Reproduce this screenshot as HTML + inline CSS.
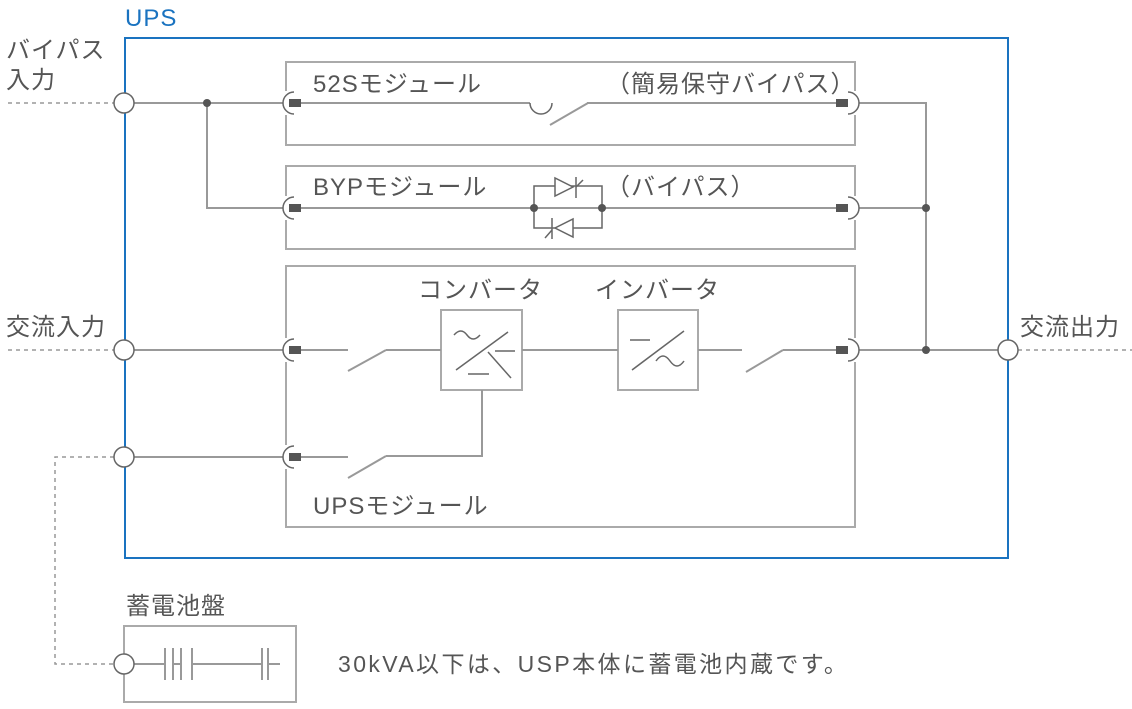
<!DOCTYPE html>
<html><head><meta charset="utf-8"><style>
body{margin:0;background:#fff}
svg text{font-family:"Liberation Sans","Noto Sans CJK JP",sans-serif;fill:#555;font-size:24px;letter-spacing:1px}
</style></head><body>
<svg width="1132" height="704" viewBox="0 0 1132 704" xmlns="http://www.w3.org/2000/svg">
<g fill="none" stroke="#aaa" stroke-width="2">
<rect x="286" y="62" width="569" height="83"/>
<rect x="286" y="166" width="569" height="83"/>
<rect x="286" y="266" width="569" height="261"/>
<rect x="441" y="310" width="81" height="80"/>
<rect x="618" y="310" width="80" height="80"/>
<rect x="124" y="626" width="172" height="76"/>
</g>
<g fill="none" stroke="#999" stroke-width="1.5" stroke-dasharray="4,4">
<line x1="8" y1="103" x2="114" y2="103"/>
<line x1="8" y1="350" x2="114" y2="350"/>
<line x1="1018" y1="350" x2="1132" y2="350"/>
<polyline points="114,457 55,457 55,664 114,664"/>
</g>
<g fill="none" stroke="#999" stroke-width="2">
<line x1="134" y1="103" x2="283" y2="103"/>
<polyline points="207,103 207,208 283,208"/>
<line x1="134" y1="350" x2="283" y2="350"/>
<line x1="134" y1="457" x2="283" y2="457"/>
<line x1="300" y1="103" x2="530" y2="103"/>
<line x1="550" y1="125" x2="588" y2="103"/>
<line x1="587" y1="103" x2="836" y2="103"/>
<line x1="300" y1="208" x2="836" y2="208"/>
<line x1="300" y1="350" x2="348" y2="350"/>
<line x1="348" y1="371" x2="386" y2="350"/>
<line x1="386" y1="350" x2="441" y2="350"/>
<line x1="522" y1="350" x2="618" y2="350"/>
<line x1="698" y1="350" x2="742" y2="350"/>
<line x1="746" y1="372" x2="783" y2="350"/>
<line x1="783" y1="350" x2="836" y2="350"/>
<line x1="300" y1="457" x2="348" y2="457"/>
<line x1="348" y1="478" x2="386" y2="456"/>
<polyline points="386,456 482,456 482,390"/>
<polyline points="859,103 926,103 926,350"/>
<line x1="859" y1="208" x2="926" y2="208"/>
<line x1="859" y1="350" x2="998" y2="350"/>
<line x1="134" y1="664" x2="165" y2="664"/>
<line x1="192" y1="664" x2="262" y2="664"/>
<line x1="268" y1="664" x2="280" y2="664"/>
<line x1="165" y1="648" x2="165" y2="680"/><line x1="173" y1="648" x2="173" y2="680"/>
<line x1="173" y1="664" x2="181" y2="664"/>
<line x1="181" y1="648" x2="181" y2="680"/><line x1="192" y1="648" x2="192" y2="680"/>
<line x1="262" y1="648" x2="262" y2="680"/><line x1="268" y1="648" x2="268" y2="680"/>
</g>
<g fill="#fff" stroke="none">
<rect x="284" y="91" width="5" height="24"/><rect x="284" y="196" width="5" height="24"/><rect x="284" y="338" width="5" height="24"/><rect x="284" y="445" width="5" height="24"/>
<rect x="852" y="91" width="5" height="24"/><rect x="852" y="196" width="5" height="24"/><rect x="852" y="338" width="5" height="24"/>
</g>
<g fill="none" stroke="#666" stroke-width="1.5">
<path d="M530,103 a11,11 0 0 0 22,0"/>
<rect x="534" y="186" width="68" height="42"/>
<polygon points="555,178 555,196 573,187" fill="#fff"/>
<line x1="576" y1="177" x2="576" y2="198"/><line x1="576" y1="187" x2="583" y2="180"/>
<polygon points="573,219 573,237 555,228" fill="#fff"/>
<line x1="552" y1="218" x2="552" y2="239"/><line x1="552" y1="230" x2="545" y2="238"/>
<path d="M454,335 q7,-8 13,0 t13,0" /><line x1="456" y1="370" x2="508" y2="332"/><line x1="488" y1="352" x2="511" y2="378"/><line x1="495" y1="351" x2="515" y2="351"/><line x1="468" y1="374" x2="489" y2="374"/>
<line x1="630" y1="340" x2="650" y2="340"/><line x1="632" y1="370" x2="684" y2="331"/><path d="M656,361 q7,-10 14,0 t14,0"/>
<path d="M294,92 a11,11 0 0 0 0,22"/><path d="M294,197 a11,11 0 0 0 0,22"/><path d="M294,339 a11,11 0 0 0 0,22"/><path d="M294,446 a11,11 0 0 0 0,22"/>
<path d="M848,92 a11,11 0 0 1 0,22"/><path d="M848,197 a11,11 0 0 1 0,22"/><path d="M848,339 a11,11 0 0 1 0,22"/>
</g>
<g fill="#555">
<circle cx="207" cy="103" r="4"/><circle cx="534" cy="208" r="4"/><circle cx="602" cy="208" r="4"/>
<circle cx="926" cy="208" r="4"/><circle cx="926" cy="350" r="4"/>
<rect x="289" y="99" width="12" height="8"/><rect x="289" y="204" width="12" height="8"/><rect x="289" y="346" width="12" height="8"/><rect x="289" y="453" width="12" height="8"/>
<rect x="836" y="99" width="12" height="8"/><rect x="836" y="204" width="12" height="8"/><rect x="836" y="346" width="12" height="8"/>
</g>
<rect x="125" y="38" width="883" height="520" fill="none" stroke="#1a73c0" stroke-width="2"/>
<g fill="#fff" stroke="#666" stroke-width="1.5">
<circle cx="124" cy="103" r="10"/><circle cx="124" cy="350" r="10"/><circle cx="124" cy="457" r="10"/><circle cx="1008" cy="350" r="10"/><circle cx="124" cy="664" r="10"/>
</g>
<text x="125" y="26" style="fill:#1a73c0">UPS</text>
<text x="6" y="58">バイパス</text><text x="6" y="88">入力</text>
<text x="6" y="335">交流入力</text><text x="1020" y="335">交流出力</text>
<text x="313" y="92">52Sモジュール</text>
<text x="606" y="92">（簡易保守バイパス）</text>
<text x="313" y="195">BYPモジュール</text>
<text x="606" y="195">（バイパス）</text>
<text x="418" y="298">コンバータ</text>
<text x="595" y="298">インバータ</text>
<text x="313" y="514">UPSモジュール</text>
<text x="126" y="614">蓄電池盤</text>
<text x="338" y="672" style="font-size:23px;letter-spacing:2.4px">30kVA以下は、USP本体に蓄電池内蔵です。</text>
</svg>
</body></html>
